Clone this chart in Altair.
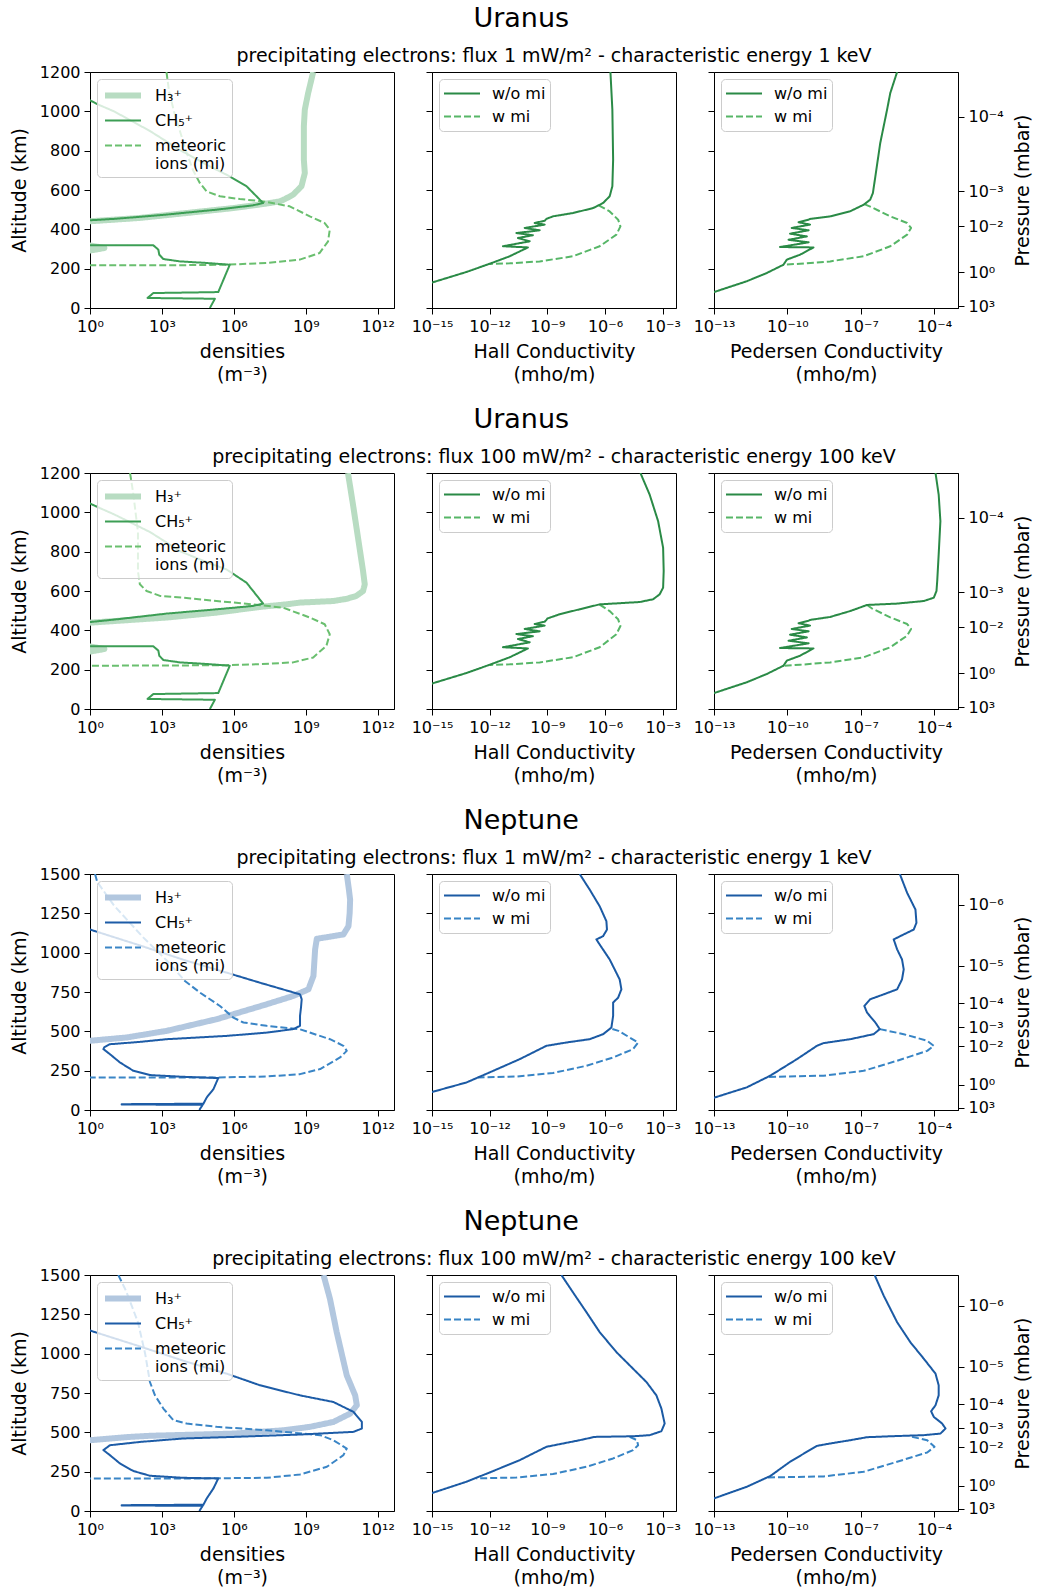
import altair as alt
import pandas as pd

FONT = "DejaVu Sans"

# ---------------- data: (altitude km, log10 value) ----------------
# Row 1: Uranus, flux 1 mW/m2, 1 keV
U1_H3 = [(1200, 9.31), (1093, 9.10), (1009, 8.96), (924, 8.92), (754, 8.92), (686, 8.96), (619, 8.82),
         (576, 8.47), (555, 8.15), (542, 7.92), (530, 7.3), (520, 6.7), (508, 5.97), (483, 4.03),
         (458, 2.08), (441, 0.0), (430, -1.5), (335, -1.5), (318, 0.0), (305, 0.6), (292, 0.0),
         (280, -1.5), (0, -1.5)]
U1_CH5 = [(1080, -1.0), (1056, 0.0), (1034, 0.35), (1000, 1.0), (900, 2.5), (800, 3.8), (720, 5.0),
          (678, 5.69), (619, 6.53), (534, 7.22), (522, 6.8), (500, 5.28), (475, 3.19), (454, 1.11),
          (446, 0.0), (440, -1.5), (325, -1.5), (319, 0.0), (319, 2.64), (297, 2.85), (271, 2.89),
          (249, 3.06), (237, 3.75), (229, 4.86), (220, 5.83), (81, 5.35), (76, 2.64), (51, 2.4),
          (47, 5.21), (0, 5.0)]
U1_MI = [(1200, 3.19), (1100, 3.3), (1000, 3.5), (900, 3.75), (800, 4.0), (700, 4.3), (636, 4.58),
         (593, 4.86), (568, 5.42), (554, 6.25), (542, 7.22), (517, 8.33), (466, 9.17), (432, 9.79),
         (398, 10.0), (339, 9.93), (280, 9.58), (246, 8.75), (229, 7.36), (220, 5.69), (217, 3.19),
         (217, -1.0)]
U1_HALL_WO = [(1200, -5.72), (1009, -5.62), (754, -5.58), (619, -5.62), (568, -5.76), (534, -6.1),
              (508, -6.62), (483, -7.67), (466, -8.71), (453, -9.05), (444, -9.14), (432, -9.66),
              (424, -9.14), (407, -10.18), (395, -9.4), (381, -10.61), (370, -9.75), (356, -10.53),
              (339, -9.92), (314, -11.31), (308, -10.01), (263, -10.96), (225, -12.0), (183, -13.21),
              (131, -14.95), (93, -16.0)]
U1_HALL_W = [(522, -6.33), (491, -5.76), (449, -5.32), (415, -5.2), (373, -5.41), (314, -6.28),
             (263, -7.67), (237, -9.4), (227, -10.96), (224, -12.0)]
U1_PED_WO = [(1200, -5.51), (1093, -5.79), (1009, -5.92), (839, -6.2), (669, -6.4), (585, -6.5),
             (551, -6.61), (525, -6.88), (492, -7.43), (466, -8.25), (453, -9.07), (449, -9.13),
             (436, -9.54), (424, -9.07), (407, -9.82), (395, -9.13), (378, -9.89), (364, -9.2),
             (347, -9.95), (334, -9.13), (310, -10.3), (308, -8.93), (271, -9.48), (246, -10.02),
             (220, -10.16), (178, -10.84), (136, -11.66), (81, -13.0), (51, -13.7)]
U1_PED_W = [(528, -6.85), (512, -6.55), (466, -5.79), (432, -5.1), (407, -4.94), (373, -5.1),
            (314, -5.79), (263, -6.88), (237, -8.25), (225, -9.48), (220, -10.16)]

# Row 2: Uranus, flux 100 mW/m2, 100 keV
U2_H3 = [(1200, 10.76), (1039, 10.97), (870, 11.18), (701, 11.39), (634, 11.46), (600, 11.39),
         (575, 11.11), (560, 10.7), (549, 10.14), (541, 8.75), (532, 8.19), (519, 7.08), (490, 5.28),
         (465, 3.19), (439, 0.0), (430, -1.5), (335, -1.5), (318, 0.0), (305, 0.6), (292, 0.0),
         (280, -1.5), (0, -1.5)]
U2_CH5 = [(1070, -1.0), (1045, 0.0), (1025, 0.35), (990, 1.0), (900, 2.5), (800, 3.8), (740, 5.0),
          (710, 5.69), (642, 6.53), (536, 7.22), (524, 6.8), (507, 5.28), (485, 3.19), (456, 1.11),
          (442, 0.0), (435, -1.5), (325, -1.5), (319, 0.0), (319, 2.64), (297, 2.85), (271, 2.89),
          (249, 3.06), (237, 3.75), (229, 4.86), (220, 5.83), (81, 5.35), (76, 2.64), (51, 2.4),
          (47, 5.21), (0, 5.0)]
U2_MI = [(1200, 1.67), (1100, 1.8), (1000, 1.9), (900, 2.0), (800, 2.0), (700, 2.0), (634, 2.08),
         (600, 2.36), (575, 2.92), (566, 3.89), (549, 5.28), (532, 6.81), (515, 8.06), (465, 9.17),
         (431, 9.79), (380, 10.0), (321, 9.86), (262, 9.31), (237, 8.47), (228, 7.08), (223, 5.69),
         (221, 3.19), (220, -1.0)]
U2_HALL_WO = [(1200, -4.16), (1090, -3.68), (955, -3.24), (820, -2.98), (701, -2.95), (617, -2.98),
              (583, -3.16), (558, -3.5), (544, -4.2), (537, -5.41), (532, -6.28), (507, -7.32),
              (482, -8.36), (460, -9.0), (453, -9.05), (444, -9.14), (432, -9.66), (424, -9.14),
              (407, -10.18), (395, -9.4), (381, -10.61), (370, -9.75), (356, -10.53), (339, -9.92),
              (314, -11.31), (308, -10.01), (263, -10.96), (225, -12.0), (183, -13.21), (131, -14.95),
              (93, -16.0)]
U2_HALL_W = [(531, -6.28), (498, -5.76), (456, -5.32), (422, -5.2), (380, -5.41), (314, -6.28),
             (263, -7.67), (237, -9.4), (227, -10.96), (224, -12.0)]
U2_PED_WO = [(1200, -3.94), (1090, -3.81), (955, -3.74), (786, -3.81), (651, -3.87), (600, -3.9),
             (566, -4.01), (549, -4.42), (536, -5.51), (529, -6.74), (498, -7.43), (468, -8.25),
             (453, -9.07), (449, -9.13), (436, -9.54), (424, -9.07), (407, -9.82), (395, -9.13),
             (378, -9.89), (364, -9.2), (347, -9.95), (334, -9.13), (310, -10.3), (308, -8.93),
             (271, -9.48), (246, -10.02), (220, -10.16), (178, -10.84), (136, -11.66), (81, -13.0),
             (51, -13.7)]
U2_PED_W = [(529, -6.74), (512, -6.55), (466, -5.79), (432, -5.1), (407, -4.94), (373, -5.1),
            (314, -5.79), (263, -6.88), (237, -8.25), (225, -9.48), (220, -10.16)]

# Row 3: Neptune, flux 1 mW/m2, 1 keV
N1_H3 = [(1500, 10.71), (1400, 10.8), (1337, 10.85), (1250, 10.83), (1168, 10.78), (1116, 10.57),
         (1088, 9.46), (1021, 9.39), (852, 9.32), (767, 9.11), (725, 8.48), (672, 7.37), (577, 5.28),
         (503, 3.2), (461, 1.53), (440, 0.0), (429, -1.0)]
N1_CH5 = [(1170, -1.0), (1147, 0.0), (1050, 2.0), (950, 4.0), (873, 5.7), (809, 7.09), (735, 8.76),
          (704, 8.83), (650, 8.8), (598, 8.76), (535, 8.76), (514, 8.48), (492, 7.37), (471, 5.7),
          (450, 3.2), (433, 2.09), (418, 0.83), (400, 0.6), (387, 0.56), (355, 0.83), (302, 1.25),
          (249, 1.81), (222, 2.5), (211, 3.89), (203, 5.35), (133, 5.15), (80, 4.87), (40, 4.73),
          (37, 1.32), (35, 1.32), (33, 4.7), (0, 4.56)]
N1_MI = [(1500, 0.21), (1450, 0.3), (1300, 1.0), (1100, 2.2), (950, 3.2), (820, 3.96), (746, 4.59),
         (661, 5.42), (587, 5.98), (556, 6.4), (535, 7.37), (513, 8.76), (450, 10.01), (408, 10.57),
         (376, 10.71), (334, 10.43), (260, 9.6), (228, 8.76), (213, 7.37), (207, 5.28), (207, 3.2),
         (207, -1.0)]
N1_HALL_WO = [(1500, -7.32), (1401, -6.8), (1295, -6.28), (1200, -5.93), (1147, -5.9), (1105, -6.1),
              (1084, -6.45), (1052, -6.28), (957, -5.76), (830, -5.24), (767, -5.15), (714, -5.32),
              (683, -5.58), (598, -5.58), (524, -5.67), (482, -6.1), (450, -6.8), (429, -8.01),
              (408, -9.05), (323, -10.44), (239, -12.0), (175, -13.21), (116, -14.95), (80, -16.0)]
N1_HALL_W = [(515, -5.62), (503, -5.3), (461, -4.72), (429, -4.28), (387, -4.54), (334, -5.58),
             (281, -6.97), (235, -8.71), (213, -10.61), (207, -12.6)]
N1_PED_WO = [(1500, -5.4), (1380, -5.1), (1274, -4.76), (1190, -4.72), (1147, -4.83), (1116, -5.24),
             (1084, -5.65), (1021, -5.51), (957, -5.31), (894, -5.24), (830, -5.31), (767, -5.51),
             (735, -6.06), (704, -6.61), (661, -6.85), (619, -6.74), (556, -6.4), (514, -6.22),
             (482, -6.47), (450, -7.43), (425, -8.52), (408, -8.79), (323, -9.61), (218, -10.7),
             (144, -11.66), (80, -12.96), (40, -13.6)]
N1_PED_W = [(514, -6.22), (482, -5.24), (440, -4.28), (408, -4.01), (376, -4.28), (313, -5.51),
            (249, -6.88), (218, -8.52), (210, -10.8)]

# Row 4: Neptune, flux 100 mW/m2, 100 keV
N2_H3 = [(1500, 9.74), (1348, 10.01), (1137, 10.29), (862, 10.71), (735, 11.06), (672, 11.13),
         (619, 10.85), (566, 10.15), (535, 9.18), (513, 8.07), (492, 5.98), (478, 2.5), (471, 1.67),
         (450, 0.0), (440, -1.0)]
N2_CH5 = [(1170, -1.0), (1147, 0.0), (1050, 2.0), (950, 4.0), (873, 5.7), (799, 7.09), (735, 8.76),
          (693, 10.15), (630, 10.99), (566, 11.34), (524, 11.34), (503, 10.99), (486, 8.76),
          (471, 5.98), (461, 3.89), (439, 2.09), (418, 0.83), (387, 0.56), (355, 0.83), (302, 1.25),
          (254, 1.81), (224, 2.5), (211, 3.89), (207, 5.35), (144, 5.15), (80, 4.87), (40, 4.73),
          (37, 1.32), (35, 1.32), (33, 4.7), (0, 4.56)]
N2_MI = [(1500, 1.18), (1400, 1.5), (1200, 2.0), (1000, 2.3), (820, 2.5), (735, 2.71), (651, 3.06),
         (577, 3.48), (556, 4.03), (535, 5.28), (513, 7.37), (482, 9.6), (450, 10.15), (397, 10.71),
         (355, 10.57), (281, 9.88), (232, 8.76), (211, 7.37), (207, 4.59), (207, -1.0)]
N2_HALL_WO = [(1500, -8.27), (1390, -7.67), (1264, -6.97), (1137, -6.28), (1010, -5.41), (904, -4.54),
              (820, -3.85), (735, -3.33), (651, -3.07), (556, -2.9), (507, -3.07), (482, -3.68),
              (475, -4.54), (471, -6.54), (450, -7.32), (429, -8.19), (408, -9.05), (323, -10.44),
              (245, -12.0), (186, -13.21), (116, -14.95), (80, -16.0)]
N2_HALL_W = [(471, -4.72), (450, -4.34), (418, -4.28), (387, -4.54), (334, -5.58), (281, -6.97),
             (235, -8.71), (213, -10.61), (207, -12.69)]
N2_PED_WO = [(1500, -6.43), (1369, -6.06), (1200, -5.51), (1073, -4.97), (968, -4.42), (873, -3.94),
             (799, -3.81), (735, -3.81), (672, -3.94), (634, -4.12), (598, -4.01), (556, -3.67),
             (524, -3.53), (492, -3.74), (482, -4.42), (475, -5.79), (469, -6.74), (450, -7.43),
             (429, -8.25), (414, -8.79), (313, -9.89), (222, -10.7), (154, -11.66), (80, -13.0),
             (40, -13.6)]
N2_PED_W = [(471, -4.9), (450, -4.28), (408, -3.98), (372, -4.28), (313, -5.51), (249, -6.88),
            (220, -8.52), (213, -10.8)]

# pressure axis (right): exponent and the altitude where it sits
U_PRES_EXP = [3, 0, -2, -3, -4]
U_PRES_ALT = [10, 183, 416, 594, 973]
N_PRES_EXP = [3, 0, -2, -3, -4, -5, -6]
N_PRES_ALT = [15, 160, 404, 527, 680, 918, 1306]

# axis ticks (exponents) and domains
DENS_TICKS = [0, 3, 6, 9, 12]
HALL_TICKS = [-15, -12, -9, -6, -3]
PED_TICKS = [-13, -10, -7, -4]
DENS_DOM = [1.0, 10 ** 12.68]
HALL_DOM = [1e-15, 10 ** -2.31]
PED_DOM = [1e-13, 10 ** -3.02]
U_ALT_TICKS = [0, 200, 400, 600, 800, 1000, 1200]
N_ALT_TICKS = [0, 250, 500, 750, 1000, 1250, 1500]

DENS_NAMES = ["H₃⁺", "CH₅⁺", "meteoric ions (mi)"]
COND_NAMES = ["w/o mi", "w mi"]

GREEN = {"h3": "#b8dcc2", "ch5": "#3c9e55", "mi": "#6abf6f", "wo": "#2a8a46", "w": "#56b667"}
BLUE = {"h3": "#b2c7df", "ch5": "#1d5ca7", "mi": "#3a85c6", "wo": "#1b5aa4", "w": "#3784c5"}

ROWS = [
    dict(planet="Uranus", flux="1", energy="1", col=GREEN, ytop=1200, yt=U_ALT_TICKS,
         dens=[U1_H3, U1_CH5, U1_MI], hall=[U1_HALL_WO, U1_HALL_W], ped=[U1_PED_WO, U1_PED_W],
         pexp=U_PRES_EXP, palt=U_PRES_ALT),
    dict(planet="Uranus", flux="100", energy="100", col=GREEN, ytop=1200, yt=U_ALT_TICKS,
         dens=[U2_H3, U2_CH5, U2_MI], hall=[U2_HALL_WO, U2_HALL_W], ped=[U2_PED_WO, U2_PED_W],
         pexp=U_PRES_EXP, palt=U_PRES_ALT),
    dict(planet="Neptune", flux="1", energy="1", col=BLUE, ytop=1500, yt=N_ALT_TICKS,
         dens=[N1_H3, N1_CH5, N1_MI], hall=[N1_HALL_WO, N1_HALL_W], ped=[N1_PED_WO, N1_PED_W],
         pexp=N_PRES_EXP, palt=N_PRES_ALT),
    dict(planet="Neptune", flux="100", energy="100", col=BLUE, ytop=1500, yt=N_ALT_TICKS,
         dens=[N2_H3, N2_CH5, N2_MI], hall=[N2_HALL_WO, N2_HALL_W], ped=[N2_PED_WO, N2_PED_W],
         pexp=N_PRES_EXP, palt=N_PRES_ALT),
]

# ---------------- helpers ----------------
SUP = str.maketrans("0123456789-", "⁰¹²³⁴⁵⁶⁷⁸⁹⁻")
IND = dict(color="independent", strokeDash="independent", strokeWidth="independent")


def p10(e):
    return "10" + str(e).translate(SUP)


def xlabel_expr(exps):
    parts = [f"round(log(datum.value)/LN10) == {e} ? '{p10(e)}'" for e in exps]
    return " : ".join(parts) + " : ''"


def plabel_expr(exps, alts):
    parts = [f"abs(datum.value - {a}) < 0.5 ? '{p10(e)}'" for e, a in zip(exps, alts)]
    return " : ".join(parts) + " : ''"


def to_df(name, pts):
    return pd.DataFrame({"series": [name] * len(pts), "i": list(range(len(pts))),
                         "alt": [p[0] for p in pts], "val": [10.0 ** p[1] for p in pts]})


def legend_obj(clip_h, pad, label_expr=None):
    kw = dict(title=None, orient="top-left", offset=7, fillColor="rgba(255,255,255,0.8)",
              strokeColor="#cccccc", cornerRadius=4, padding=pad, labelFont=FONT, labelFontSize=16,
              labelColor="black", symbolSize=1296, symbolType="stroke", labelOffset=11,
              clipHeight=clip_h, rowPadding=2, labelLimit=300)
    if label_expr:
        kw["labelExpr"] = label_expr
    return alt.Legend(**kw)


def panel(series_pts, names, colors, dashes, widths, draw_order, xdom, xticks, xtitle,
          ytop, yticks, left_labels, width, height, clip_h, pad, label_expr=None):
    leg = legend_obj(clip_h, pad, label_expr)
    if left_labels:
        yaxis = alt.Axis(values=yticks, format="d", title="Altitude (km)", titlePadding=10)
    else:
        yaxis = alt.Axis(values=yticks, labels=False, title=None)
    enc = dict(
        x=alt.X("val:Q", scale=alt.Scale(type="log", domain=xdom, nice=False),
                axis=alt.Axis(values=[10.0 ** e for e in xticks], labelExpr=xlabel_expr(xticks),
                              title=xtitle, titleLineHeight=23, titlePadding=8)),
        y=alt.Y("alt:Q", scale=alt.Scale(domain=[0, ytop], nice=False, zero=False), axis=yaxis),
        order=alt.Order("i:Q"),
        color=alt.Color("series:N", scale=alt.Scale(domain=names, range=colors), legend=leg),
        strokeDash=alt.StrokeDash("series:N", scale=alt.Scale(domain=names, range=dashes), legend=leg),
        strokeWidth=alt.StrokeWidth("series:N", scale=alt.Scale(type="ordinal", domain=names, range=widths),
                                    legend=leg),
    )
    layers = []
    for k in draw_order:
        layers.append(alt.Chart(to_df(names[k], series_pts[k])).mark_line(clip=True, strokeJoin="round")
                      .encode(**enc))
    return alt.layer(*layers).properties(width=width, height=height)


def make_row(r):
    c = r["col"]
    dens = panel(r["dens"], DENS_NAMES, [c["h3"], c["ch5"], c["mi"]], [[1, 0], [1, 0], [7, 3]],
                 [6, 2, 2], [0, 2, 1], DENS_DOM, DENS_TICKS, ["densities", "(m⁻³)"],
                 r["ytop"], r["yt"], True, 304, 236, 23, 5,
                 label_expr="datum.label == 'meteoric ions (mi)' ? ['meteoric', 'ions (mi)'] : datum.label")
    subtitle = (f"precipitating electrons: flux {r['flux']} mW/m² - characteristic energy "
                f"{r['energy']} keV")
    hall = panel(r["hall"], COND_NAMES, [c["wo"], c["w"]], [[1, 0], [7, 3]], [2, 2], [1, 0],
                 HALL_DOM, HALL_TICKS, ["Hall Conductivity", "(mho/m)"], r["ytop"], r["yt"], False,
                 244, 236, 21, 4).properties(
        title=alt.TitleParams(subtitle, fontSize=19, font=FONT, anchor="middle", frame="group",
                              offset=6, fontWeight="normal", color="black"))
    ped_lines = panel(r["ped"], COND_NAMES, [c["wo"], c["w"]], [[1, 0], [7, 3]], [2, 2], [1, 0],
                      PED_DOM, PED_TICKS, ["Pedersen Conductivity", "(mho/m)"], r["ytop"], r["yt"],
                      False, 244, 236, 21, 4)
    pres = alt.Chart(pd.DataFrame({"alt": r["palt"]})).mark_point(opacity=0).encode(
        y=alt.Y("alt:Q", scale=alt.Scale(domain=[0, r["ytop"]], nice=False, zero=False),
                axis=alt.Axis(orient="right", values=r["palt"], labelExpr=plabel_expr(r["pexp"], r["palt"]),
                              title="Pressure (mbar)", titleAngle=270, titleBaseline="top",
                              titlePadding=10)))
    ped = alt.layer(ped_lines, pres).resolve_scale(y="independent").properties(width=244, height=236)
    return alt.hconcat(dens, hall, ped, spacing=38, bounds="flush",
                       title=alt.TitleParams(r["planet"], fontSize=27, font=FONT, anchor="middle",
                                             offset=13, fontWeight="normal", color="black")
                       ).resolve_scale(**IND).resolve_legend(**IND)


chart = alt.vconcat(*[make_row(r) for r in ROWS], spacing=21).resolve_scale(**IND).resolve_legend(
    **IND).properties(
    padding={"left": 9, "top": 5, "right": 5, "bottom": 3}
).configure_axis(
    labelFont=FONT, titleFont=FONT, labelFontSize=16, titleFontSize=19, titleFontWeight="normal",
    labelColor="black", titleColor="black", tickColor="black", domainColor="black", grid=False,
    tickSize=6, labelPadding=4, labelFlush=False, labelOverlap=False, domainWidth=1, tickWidth=1
).configure_view(stroke="black", strokeWidth=1).configure_title(font=FONT, color="black")

chart.save("out.html", embed_options={"renderer": "svg", "actions": False})
